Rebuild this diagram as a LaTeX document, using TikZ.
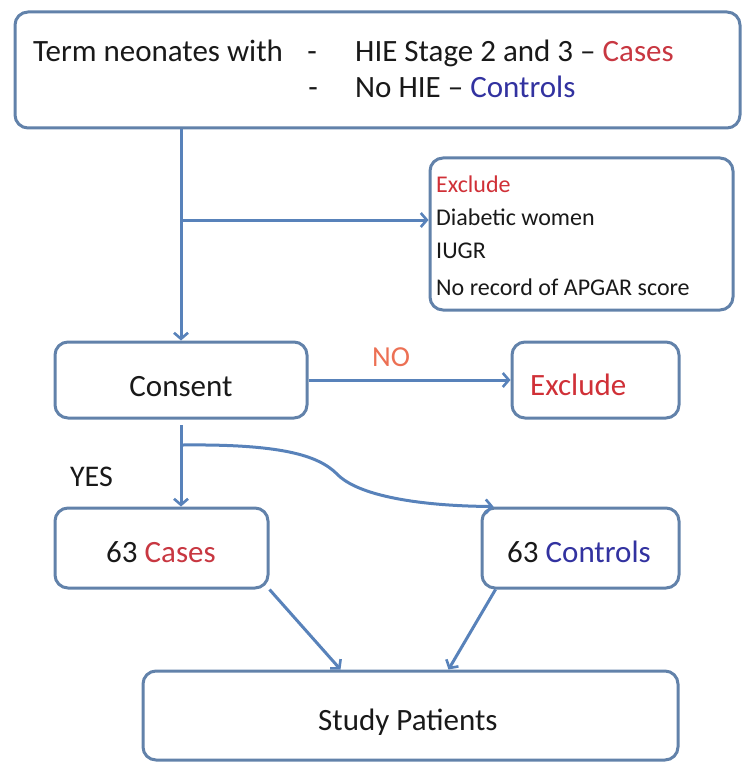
\documentclass[tikz,border=0pt]{standalone}
\usepackage{fontspec}
\setmainfont{Carlito}
\usetikzlibrary{arrows.meta}
\definecolor{boxc}{RGB}{98,130,170}
\definecolor{linec}{RGB}{88,130,186}
\definecolor{casered}{RGB}{200,55,65}
\definecolor{ctrlblue}{RGB}{50,50,160}
\definecolor{noorange}{RGB}{236,112,84}
\definecolor{exred}{RGB}{208,48,55}
\tikzset{
  boxnode/.style={draw=boxc, line width=3pt, rounded corners=13pt, fill=white, inner sep=0pt},
  conn/.style={draw=linec, line width=3pt, -{Straight Barb[length=6pt,width=14pt,line width=2.6pt]}},
  main/.style={font=\fontsize{31}{36}\selectfont, inner sep=0pt, text=black!90},
  small/.style={font=\fontsize{24}{28}\selectfont, inner sep=0pt, text=black!90},
}
\begin{document}
\begin{tikzpicture}[x=1pt,y=-1pt]
\useasboundingbox (0,0) rectangle (743,762);
% boxes
\node[boxnode, minimum width=725pt, minimum height=116pt] (top) at (377.5,70) {};
\node[boxnode, minimum width=303pt, minimum height=152pt] (exlist) at (581.5,234) {};
\node[boxnode, minimum width=252pt, minimum height=76pt] (consent) at (181,380) {};
\node[boxnode, minimum width=167pt, minimum height=76pt] (exclude) at (595.5,380) {};
\node[boxnode, minimum width=213pt, minimum height=80pt] (cases) at (161.5,548) {};
\node[boxnode, minimum width=197pt, minimum height=80pt] (controls) at (580.5,548) {};
\node[boxnode, minimum width=535pt, minimum height=89pt] (study) at (410.5,715.5) {};
% texts
\node[main, anchor=base west] (t1) at (33,62) {Term neonates with};
\node[main, anchor=base] (d1) at (312,62) {-};
\node[main, anchor=base west] (t2) at (355,62) {HIE Stage 2 and 3 -- \textcolor{casered}{Cases}};
\node[main, anchor=base] (d2) at (313,98) {-};
\node[main, anchor=base west] (t3) at (355,98) {No HIE -- \textcolor{ctrlblue}{Controls}};
\node[small, anchor=base west, text=exred] (e1) at (436,193) {Exclude};
\node[small, anchor=base west] (e2) at (436,225) {Diabetic women};
\node[small, anchor=base west] (e3) at (436,258) {IUGR};
\node[small, anchor=base west] (e4) at (436,295) {No record of APGAR score};
\node[main, anchor=base] (tc) at (181,396) {Consent};
\node[main, anchor=base west, text=exred] (tx) at (530,395) {Exclude};
\node[main, anchor=base west] (tca) at (106,562) {63 \textcolor{casered}{Cases}};
\node[main, anchor=base west] (tco) at (507,562) {63 \textcolor{ctrlblue}{Controls}};
\node[main, anchor=base west] (ts) at (318,730) {Study Patients};
\node[font=\fontsize{29}{34}\selectfont, inner sep=0pt, text=noorange, anchor=base] (no) at (391,366.5) {NO};
\node[font=\fontsize{30}{34}\selectfont, inner sep=0pt, text=black!90, anchor=base] (yes) at (91.5,486.5) {YES};
% connectors
\coordinate (br) at (181,220);
\draw[conn] (consent.north |- top.south) -- (consent.north);
\draw[conn] (br) -- (br -| exlist.west);
\draw[conn] (consent.east) -- (exclude.west);
\coordinate (ys) at (181,425);
\draw[conn] (ys) -- (ys |- cases.north);
\coordinate (cs) at (183,445);
\draw[conn] (cs) .. controls (280,444) and (318,455) .. (337,474)
            .. controls (358,496) and (420,506) .. ([xshift=13pt]controls.north west);
\draw[conn] (cases.south east) -- ([xshift=-70pt]study.north);
\draw[conn] ([xshift=15pt]controls.south west) -- ([xshift=38pt]study.north);
\end{tikzpicture}
\end{document}
